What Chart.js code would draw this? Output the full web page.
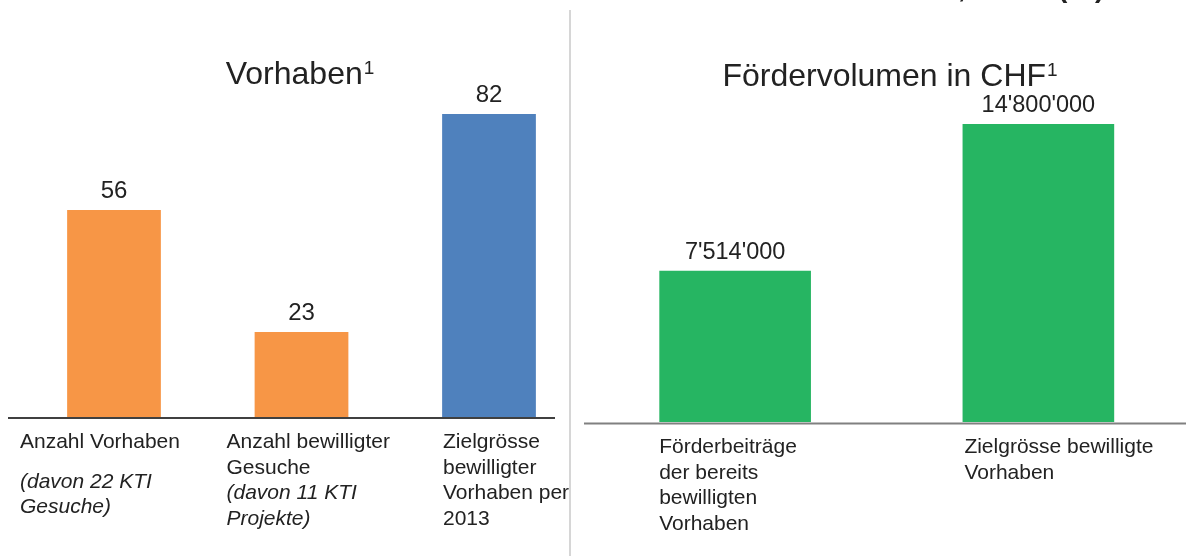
<!DOCTYPE html>
<html>
<head>
<meta charset="utf-8">
<script src="https://cdn.jsdelivr.net/npm/chart.js@4.4.1/dist/chart.umd.min.js"></script>
<style>
  html, body { margin: 0; padding: 0; background: #ffffff; overflow: hidden; width: 1186px; height: 556px; }
  #wrap { position: relative; width: 1186px; height: 556px; overflow: hidden; }
  canvas { position: absolute; top: 0; }
  #left { left: 0px; }
  #right { left: 576px; }
  #divider { position: absolute; left: 569px; top: 10px; width: 2px; height: 546px; background: #d6d6d6; }
  .frag { position: absolute; top: -26px; font: bold 28px "Liberation Sans", Arial, sans-serif; line-height: 28px; color: #222; }
</style>
</head>
<body>
<div id="wrap">
  <canvas id="left" width="600" height="556"></canvas>
  <canvas id="right" width="620" height="556"></canvas>
  <div id="divider"></div>
  <div class="frag" style="left:958px">,</div>
  <div class="frag" style="left:1058px">(</div>
  <div class="frag" style="left:1095px">)</div>
</div>
<script>
// ---------- DATA ----------
const leftCategories = ["Anzahl Vorhaben", "Anzahl bewilligter Gesuche", "Zielgrösse bewilligter Vorhaben per 2013"];
const leftValues = [56, 23, 82];
const leftValueLabels = ["56", "23", "82"];
const leftTickLines = [
  ["Anzahl Vorhaben"],
  ["Anzahl bewilligter", "Gesuche"],
  ["Zielgrösse", "bewilligter", "Vorhaben per", "2013"]
];
const leftNoteLines = [
  ["(davon 22 KTI", "Gesuche)"],
  ["(davon 11 KTI", "Projekte)"],
  []
];
const leftTitle = "Vorhaben";

const rightCategories = ["Förderbeiträge der bereits bewilligten Vorhaben", "Zielgrösse bewilligte Vorhaben"];
const rightValues = [7514000, 14800000];
const rightValueLabels = ["7'514'000", "14'800'000"];
const rightTickLines = [
  ["Förderbeiträge", "der bereits", "bewilligten", "Vorhaben"],
  ["Zielgrösse bewilligte", "Vorhaben"]
];
const rightNoteLines = [[], []];
const rightTitle = "Fördervolumen in CHF";
const titleSup = "1";

// ---------- STYLE ----------
const FONT = '"Liberation Sans", Arial, Helvetica, sans-serif';
const TEXT = '#222222';
const ORANGE = '#F79646';
const BLUE = '#4F81BD';
const GREEN = '#26B562';

const decoPlugin = {
  id: 'deco',
  afterDatasetsDraw(chart, args, o) {
    const ctx = chart.ctx;
    const xs = chart.scales.x, ys = chart.scales.y;
    const meta = chart.getDatasetMeta(0);
    const y0 = ys.getPixelForValue(0);
    ctx.save();
    // baseline
    ctx.strokeStyle = o.lineColor;
    ctx.lineWidth = o.lineWidth;
    ctx.beginPath();
    ctx.moveTo(o.lineFrom, y0 + o.lineDy);
    ctx.lineTo(o.lineTo, y0 + o.lineDy);
    ctx.stroke();
    // value labels
    ctx.fillStyle = TEXT;
    ctx.font = o.valueFont + 'px ' + FONT;
    ctx.textAlign = 'center';
    ctx.textBaseline = 'alphabetic';
    meta.data.forEach((bar, i) => {
      ctx.fillText(o.valueLabels[i], bar.x, bar.y - 12);
    });
    // title with superscript
    ctx.textAlign = 'left';
    ctx.font = '32px ' + FONT;
    const wMain = ctx.measureText(o.title).width;
    ctx.font = '19px ' + FONT;
    const wSup = ctx.measureText(titleSup).width;
    const startX = o.titleCenter - (wMain + 1 + wSup) / 2;
    ctx.font = '32px ' + FONT;
    ctx.fillText(o.title, startX, o.titleBaseline);
    ctx.font = '19px ' + FONT;
    ctx.fillText(titleSup, startX + wMain + 1, o.titleBaseline - 10);
    // category labels
    const lh = o.lineHeight;
    o.tickLines.forEach((lines, i) => {
      const x = xs.getPixelForValue(i) + o.tickDx[i];
      let y = y0 + o.firstDy;
      ctx.font = '21px ' + FONT;
      lines.forEach((t) => { ctx.fillText(t, x, y); y += lh; });
      const notes = o.noteLines[i];
      if (notes.length) {
        y += o.noteGap[i];
        ctx.font = 'italic 21px ' + FONT;
        notes.forEach((t) => { ctx.fillText(t, x, y); y += lh; });
      }
    });
    ctx.restore();
  }
};

function makeChart(id, cats, vals, colors, yMax, padding, deco) {
  return new Chart(document.getElementById(id), {
    type: 'bar',
    data: {
      labels: cats,
      datasets: [{ data: vals, backgroundColor: colors, borderWidth: 0, barPercentage: 0.5, categoryPercentage: 1.0 }]
    },
    options: {
      responsive: false,
      animation: false,
      devicePixelRatio: 1,
      layout: { padding: padding },
      plugins: { legend: { display: false }, tooltip: { enabled: false }, title: { display: false }, deco: deco },
      scales: {
        x: { display: false },
        y: { display: false, min: 0, max: yMax }
      }
    },
    plugins: [decoPlugin]
  });
}

makeChart('left', leftCategories, leftValues, [ORANGE, ORANGE, BLUE], 100,
  { left: 20.25, right: 17.25, top: 47.5, bottom: 139 },
  {
    valueLabels: leftValueLabels, valueFont: 24, tickLines: leftTickLines, noteLines: leftNoteLines,
    title: leftTitle, titleCenter: 300, titleBaseline: 84,
    lineColor: '#000000', lineWidth: 1.5, lineFrom: 8, lineTo: 555, lineDy: 1,
    tickDx: [-94, -75, -46], firstDy: 31, lineHeight: 25.5, noteGap: [14, 0, 0]
  });

makeChart('right', rightCategories, rightValues, [GREEN, GREEN], 20000000,
  { left: 7.5, right: 6, top: 19.4, bottom: 134 },
  {
    valueLabels: rightValueLabels, valueFont: 23.5, tickLines: rightTickLines, noteLines: rightNoteLines,
    title: rightTitle, titleCenter: 890 - 576, titleBaseline: 86,
    lineColor: '#808080', lineWidth: 2, lineFrom: 8, lineTo: 620, lineDy: 1.5,
    tickDx: [-76, -74], firstDy: 31, lineHeight: 25.5, noteGap: [0, 0]
  });
</script>
</body>
</html>
